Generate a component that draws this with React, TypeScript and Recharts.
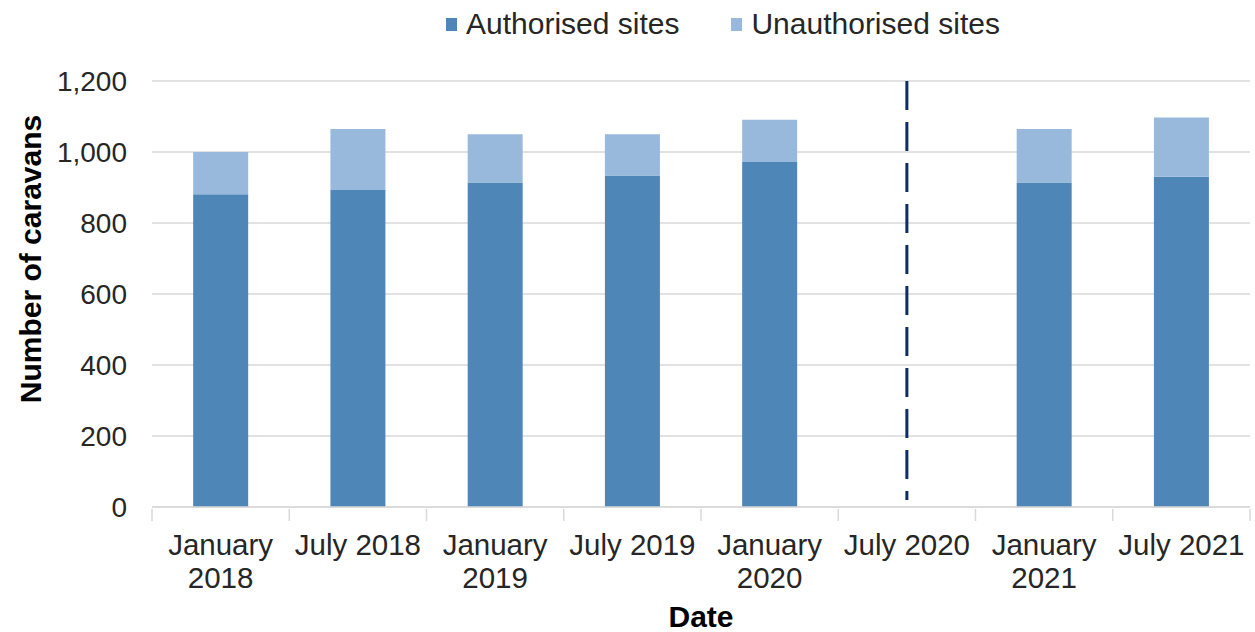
import React from "react";
import { BarChart, Bar, XAxis, YAxis, CartesianGrid, ReferenceLine, Label } from "recharts";

const categories = [
  "January 2018",
  "July 2018",
  "January 2019",
  "July 2019",
  "January 2020",
  "July 2020",
  "January 2021",
  "July 2021",
];
const authorised: (number | null)[] = [881, 893, 914, 934, 972, null, 914, 930];
const unauthorised: (number | null)[] = [119, 172, 136, 116, 119, null, 151, 167];
const yTicks = [0, 200, 400, 600, 800, 1000, 1200];
const seriesNames = ["Authorised sites", "Unauthorised sites"];
const breakCategory = "July 2020";

const COLORS = ["#4F86B8", "#98B9DC"];
const FONT = "'Liberation Sans', Arial, sans-serif";
const FS = 28;
const FSX = 29.5;
const FSL = 30;

const data = categories.map((c, i) => ({
  date: c,
  authorised: authorised[i],
  unauthorised: unauthorised[i],
}));

const XTick = (props: any) => {
  const { x, y, payload, index, visibleTicksCount } = props;
  const off = payload.offset ?? 0;
  const label: string = String(payload.value);
  const lines = label.length > 9 ? label.split(" ") : [label];
  return (
    <g>
      <line x1={x - off} x2={x - off} y1={y} y2={y + 12} stroke="#D9D9D9" strokeWidth={1.5} />
      {index === visibleTicksCount - 1 && (
        <line x1={x + off} x2={x + off} y1={y} y2={y + 12} stroke="#D9D9D9" strokeWidth={1.5} />
      )}
      <text x={x} y={y + 46} textAnchor="middle" fill="#262626" fontSize={FSX} fontFamily={FONT}>
        {lines.map((l, i) => (
          <tspan key={i} x={x} dy={i === 0 ? 0 : 33}>
            {l}
          </tspan>
        ))}
      </text>
    </g>
  );
};

const YTitle = (props: any) => {
  const vb = props.viewBox || {};
  const cx = 30;
  const cy = vb.y + vb.height / 2 - 35;
  return (
    <text
      x={cx}
      y={cy}
      transform={`rotate(-90, ${cx}, ${cy})`}
      textAnchor="middle"
      dominantBaseline="central"
      fontFamily={FONT}
      fontSize={FSL}
      fontWeight={700}
      fill="#000"
    >
      Number of caravans
    </text>
  );
};

const LegendRow = () => (
  <div
    style={{
      position: "absolute",
      left: 446,
      top: 6,
      display: "flex",
      alignItems: "center",
      fontFamily: FONT,
      fontSize: FSL,
      lineHeight: "36px",
      color: "#262626",
      whiteSpace: "nowrap",
    }}
  >
    {seriesNames.map((n, i) => (
      <div key={n} style={{ display: "flex", alignItems: "center", marginRight: i === 0 ? 52 : 0 }}>
        <div style={{ width: 11, height: 13, background: COLORS[i], marginRight: 9 }} />
        <span>{n}</span>
      </div>
    ))}
  </div>
);

export default function App() {
  return (
    <div style={{ position: "absolute", left: 0, top: 0, width: 1255, height: 632, background: "#fff" }}>
      <LegendRow />
      <BarChart
        width={1255}
        height={632}
        data={data}
        margin={{ top: 81, right: 5, bottom: 0, left: 0 }}
        barCategoryGap="30%"
      >
        <CartesianGrid vertical={false} stroke="#D9D9D9" strokeWidth={1.5} />
        <XAxis
          dataKey="date"
          height={125}
          tickSize={0}
          tickLine={false}
          axisLine={{ stroke: "#D9D9D9", strokeWidth: 1.5 }}
          tick={<XTick />}
          interval={0}
        >
          <Label
            value="Date"
            position="insideBottom"
            offset={5}
            style={{ fontFamily: FONT, fontSize: FSL, fontWeight: 700, fill: "#000" }}
          />
        </XAxis>
        <YAxis
          width={152}
          domain={[0, 1200]}
          ticks={yTicks}
          tickSize={0}
          tickMargin={25}
          axisLine={false}
          tickLine={false}
          tickFormatter={(v: number) => v.toLocaleString("en-US")}
          tick={{ fontFamily: FONT, fontSize: FS, fill: "#262626" }}
        >
          <Label content={<YTitle />} />
        </YAxis>
        <Bar dataKey="authorised" stackId="a" fill={COLORS[0]} isAnimationActive={false} />
        <Bar dataKey="unauthorised" stackId="a" fill={COLORS[1]} isAnimationActive={false} />
        <ReferenceLine
          segment={[
            { x: breakCategory, y: 1200 },
            { x: breakCategory, y: 20 },
          ]}
          stroke="#0E2D63"
          strokeWidth={3}
          strokeDasharray="29 12"
          ifOverflow="visible"
        />
      </BarChart>
    </div>
  );
}
